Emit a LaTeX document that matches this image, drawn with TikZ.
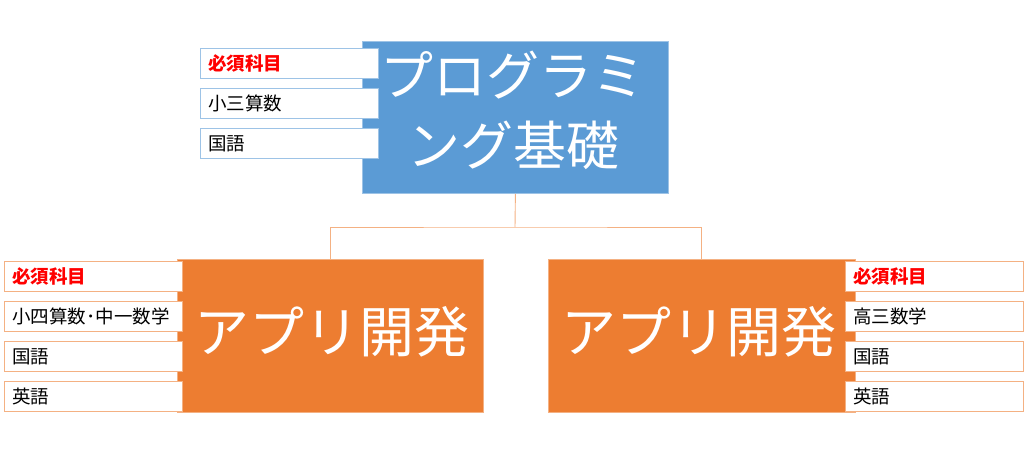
\documentclass[tikz,border=0pt]{standalone}
\usepackage{fontspec}
\newfontfamily\jp{Noto Sans CJK JP}
\definecolor{cblue}{HTML}{5B9BD5}
\definecolor{cblueL}{HTML}{9DC3E6}
\definecolor{corange}{HTML}{ED7D31}
\definecolor{corangeL}{HTML}{F4B183}
\definecolor{cred}{HTML}{FF0000}
\begin{document}
\begin{tikzpicture}[x=1pt,y=-1pt,
  bigbox/.style={draw=#1L, fill=#1, line width=0.8pt, text=white, inner sep=0pt, align=center, anchor=north west},
  sidebox/.style={draw=#1, fill=white, line width=0.9pt, anchor=north west, minimum width=178pt, minimum height=30pt, inner xsep=8pt, inner ysep=0pt, text width=162pt, align=left, font=\jp\fontsize{18.5}{20}\selectfont},
  conn/.style={draw=corangeL, line width=0.9pt}]
\useasboundingbox (0,0) rectangle (1024,453);
% main boxes
\node[bigbox=cblue, minimum width=306pt, minimum height=152pt] (top) at (362,41) {};
\node[text=white, font=\jp\fontsize{53}{70}\selectfont, align=center] (toptxt) at (513,110) {プログラミ\\ング基礎};
\node[bigbox=corange, minimum width=306pt, minimum height=153pt] (L) at (177,259) {};
\node[text=white, font=\jp\fontsize{55}{60}\selectfont] (Ltxt) at (332,332) {アプリ開発};
\node[bigbox=corange, minimum width=307pt, minimum height=153pt] (R) at (548,259) {};
\node[text=white, font=\jp\fontsize{55}{60}\selectfont] (Rtxt) at (699,332) {アプリ開発};
% connectors
\coordinate (bar) at (515,227);
\draw[conn] (top.south) -- (bar);
\draw[conn] (L.north) |- (bar) -| (R.north);
% top side boxes
\node[sidebox=cblueL] (t1) at (200,48) {\textcolor{cred}{\bfseries 必須科目}};
\node[sidebox=cblueL] (t2) at (200,88) {小三算数};
\node[sidebox=cblueL] (t3) at (200,128) {国語};
% left side boxes
\node[sidebox=corangeL] (l1) at (4,261) {\textcolor{cred}{\bfseries 必須科目}};
\node[sidebox=corangeL] (l2) at (4,301) {小四算数･中一数学};
\node[sidebox=corangeL] (l3) at (4,341) {国語};
\node[sidebox=corangeL] (l4) at (4,381) {英語};
% right side boxes
\node[sidebox=corangeL] (r1) at (845,261) {\textcolor{cred}{\bfseries 必須科目}};
\node[sidebox=corangeL] (r2) at (845,301) {高三数学};
\node[sidebox=corangeL] (r3) at (845,341) {国語};
\node[sidebox=corangeL] (r4) at (845,381) {英語};
\end{tikzpicture}
\end{document}
